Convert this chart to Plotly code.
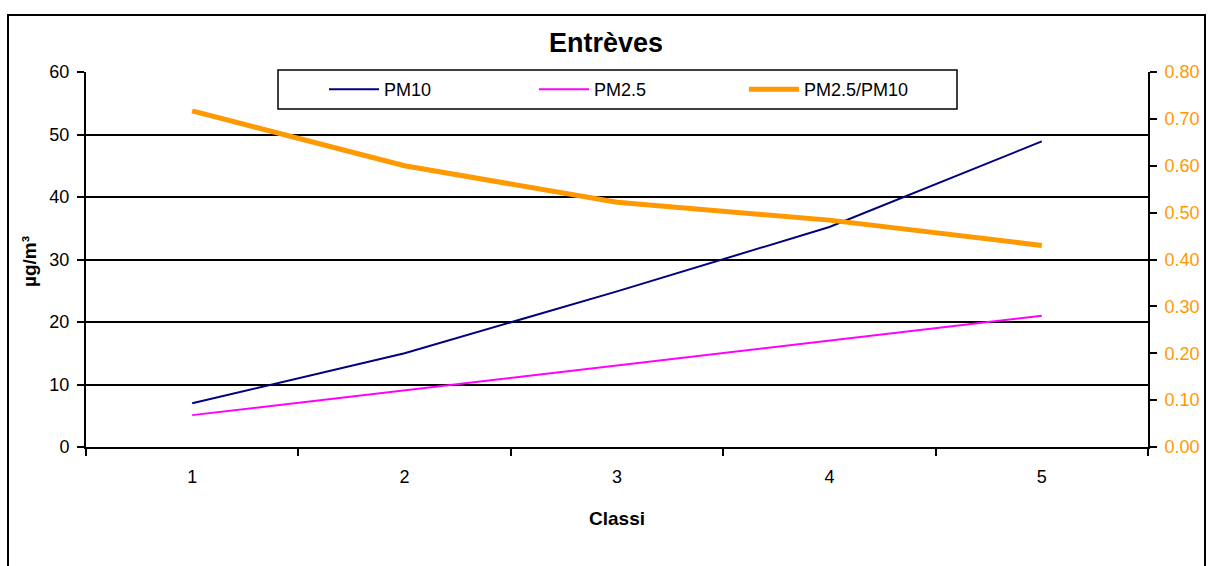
import plotly.graph_objects as go

# Data
classi = ["1", "2", "3", "4", "5"]
pm10 = [7.0, 15.0, 24.9, 35.2, 48.9]
pm25 = [5.1, 9.1, 13.0, 17.0, 21.0]
ratio = [0.717, 0.600, 0.522, 0.484, 0.430]

left_ticks = [0, 10, 20, 30, 40, 50, 60]
right_ticks = [0.0, 0.1, 0.2, 0.3, 0.4, 0.5, 0.6, 0.7, 0.8]

FONT = "Liberation Sans, Arial, sans-serif"
ORANGE = "#FF9900"

W, H = 1208, 566
L, R, T, B = 86, 60, 72, 119
pw, ph = W - L - R, H - T - B


def px_x(x):
    return (x - L) / pw


def px_y(y):
    return (H - B - y) / ph


fig = go.Figure()
fig.add_trace(go.Scatter(x=classi, y=pm10, name="PM10", mode="lines",
                         line=dict(color="#000080", width=2)))
fig.add_trace(go.Scatter(x=classi, y=pm25, name="PM2.5", mode="lines",
                         line=dict(color="#FF00FF", width=2)))
fig.add_trace(go.Scatter(x=classi, y=ratio, name="PM2.5/PM10", mode="lines",
                         line=dict(color=ORANGE, width=5), yaxis="y2"))

fig.update_layout(
    width=W, height=H,
    margin=dict(l=L, r=R, t=T, b=B, autoexpand=False),
    paper_bgcolor="white", plot_bgcolor="white",
    font=dict(family=FONT, size=18, color="black"),
    showlegend=True,
    legend=dict(
        orientation="h", x=px_x(324), y=px_y(71), xanchor="left", yanchor="top",
        bgcolor="rgba(0,0,0,0)", borderwidth=0,
        entrywidth=145, entrywidthmode="pixels",
        font=dict(family=FONT, size=18, color="black"),
        itemwidth=50,
    ),
    xaxis=dict(
        type="category", range=[-0.5, 4.5], automargin=False,
        showline=True, linecolor="black", linewidth=2,
        ticks="outside", tickson="boundaries", ticklen=7, tickwidth=2, tickcolor="black",
        showgrid=False, zeroline=False,
        tickfont=dict(size=18, color="black"),
        ticklabelstandoff=12,
    ),
    yaxis=dict(
        range=[0, 60], tickvals=left_ticks, automargin=False,
        showline=True, linecolor="black", linewidth=2,
        ticks="outside", ticklen=7, tickwidth=2, tickcolor="black",
        showgrid=True, gridcolor="black", gridwidth=1.5, zeroline=False,
        tickfont=dict(size=18, color="black"),
        ticklabelstandoff=4,
    ),
    yaxis2=dict(
        overlaying="y", side="right", range=[0, 0.8], tickvals=right_ticks,
        tickformat=".2f", automargin=False,
        showline=True, linecolor="black", linewidth=2,
        ticks="outside", ticklen=7, tickwidth=2, tickcolor="black",
        showgrid=False, zeroline=False,
        tickfont=dict(size=18, color=ORANGE),
        ticklabelstandoff=4,
    ),
    shapes=[
        # outer chart frame
        dict(type="rect", xref="paper", yref="paper",
             x0=px_x(8), x1=px_x(1205), y0=px_y(600), y1=px_y(15),
             line=dict(color="black", width=2), fillcolor="rgba(0,0,0,0)", layer="below"),
        # legend box
        dict(type="rect", xref="paper", yref="paper",
             x0=px_x(278), x1=px_x(957), y0=px_y(109), y1=px_y(70),
             line=dict(color="black", width=1.5), fillcolor="white", layer="above"),
    ],
    annotations=[
        dict(text="<b>Entrèves</b>", xref="paper", yref="paper",
             x=px_x(606), y=px_y(43), xanchor="center", yanchor="middle",
             showarrow=False, font=dict(size=27, color="black", family=FONT)),
        dict(text="<b>µg/m³</b>", xref="paper", yref="paper",
             x=px_x(29), y=px_y(262), xanchor="center", yanchor="middle",
             textangle=-90, showarrow=False, font=dict(size=19, color="black", family=FONT)),
        dict(text="<b>Classi</b>", xref="paper", yref="paper",
             x=px_x(617), y=px_y(518), xanchor="center", yanchor="middle",
             showarrow=False, font=dict(size=19, color="black", family=FONT)),
    ],
)

fig.write_html("out.html")
